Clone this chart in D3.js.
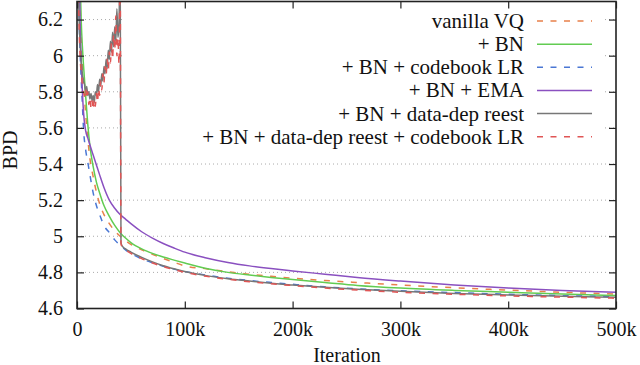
<!DOCTYPE html>
<html><head><meta charset="utf-8">
<script src="https://cdn.jsdelivr.net/npm/d3@7"></script>
<style>
body{margin:0;background:#fff}
svg{display:block}
svg text{font-family:"Liberation Serif","Times New Roman",Tinos,"DejaVu Serif","Noto Serif",serif;fill:#111}
</style>
</head><body>
<svg id="c" width="640" height="365"></svg>
<script>
// ---- data (iterations in thousands) ----
const xTicks = [0,100,200,300,400,500];
const xTickLabels = ["0","100k","200k","300k","400k","500k"];
const yTicks = [4.6,4.8,5.0,5.2,5.4,5.6,5.8,6.0,6.2];
const yTickLabels = ["4.6","4.8","5","5.2","5.4","5.6","5.8","6","6.2"];

const seriesLabels = ["vanilla VQ","+ BN","+ BN + codebook LR","+ BN + EMA","+ BN + data-dep reest","+ BN + data-dep reest + codebook LR"];

const itersSmooth = [1,2,3,4,5,6,8,10,12,15,18,21,25,30,35,40,45,50,60,70,80,90,100,120,140,160,180,200,230,260,300,350,400,450,500];
const vanillaVQ = [7.0,6.55,6.27,6.08,5.95,5.85,5.68,5.54,5.43,5.33,5.245,5.18,5.12,5.07,5.03,5.0,4.975,4.955,4.925,4.9,4.877,4.856,4.836,4.82,4.803,4.79,4.778,4.768,4.755,4.744,4.73,4.715,4.702,4.69,4.68];
const bn = [7.2,6.7,6.4,6.18,6.05,5.95,5.78,5.62,5.5,5.385,5.3,5.24,5.17,5.11,5.06,5.02,4.99,4.965,4.93,4.905,4.885,4.868,4.852,4.822,4.80,4.785,4.772,4.76,4.744,4.728,4.713,4.70,4.69,4.68,4.672];
const bnCodebookLR = [6.6,6.2,6.0,5.86,5.73,5.6,5.48,5.41,5.34,5.24,5.17,5.12,5.06,5.02,4.98,4.95,4.925,4.905,4.875,4.853,4.834,4.818,4.805,4.785,4.768,4.755,4.744,4.734,4.72,4.709,4.698,4.688,4.679,4.671,4.665];
const bnEMA = [7.1,6.5,6.15,5.95,5.8,5.69,5.585,5.545,5.505,5.45,5.395,5.34,5.27,5.20,5.155,5.12,5.095,5.07,5.025,4.99,4.96,4.935,4.912,4.88,4.855,4.836,4.821,4.808,4.79,4.772,4.752,4.73,4.713,4.70,4.69];

const itersReest = [0,1,2,3,4,5,6,7,8,9,10,11,12,13,14,15,16,17,18,19,20,21,22,23,24,25,26,27,28,29,30,31,32,33,34,35,36,37,38,39,40,40.8,42,45,50,60,70,80,90,100,120,140,160,180,200,230,260,300,350,400,450,500];
const bnReest = [6.9,6.45,6.2,6.05,5.96,5.9,5.86,5.84,5.8,5.83,5.78,5.8,5.76,5.79,5.75,5.78,5.74,5.8,5.78,5.84,5.8,5.87,5.83,5.9,5.86,5.94,5.9,5.98,5.93,6.03,5.98,6.08,6.02,6.13,6.05,6.16,6.08,6.26,6.1,6.18,6.6,4.965,4.945,4.93,4.912,4.883,4.858,4.837,4.82,4.805,4.782,4.765,4.752,4.74,4.73,4.717,4.706,4.695,4.683,4.675,4.668,4.662];
const bnReestCodebookLR = [7.0,6.5,6.15,5.98,5.9,5.84,5.8,5.78,5.82,5.76,5.8,5.73,5.77,5.71,5.75,5.7,5.76,5.72,5.79,5.74,5.82,5.78,5.86,5.81,5.9,5.85,5.94,5.89,5.98,5.92,6.02,5.96,6.07,5.98,6.12,6.03,6.22,6.0,6.1,5.95,6.6,4.96,4.94,4.925,4.905,4.876,4.852,4.832,4.815,4.80,4.778,4.762,4.748,4.737,4.727,4.713,4.702,4.69,4.679,4.67,4.663,4.657];

const colors = ["#e8804a","#62cc52","#4a77d4","#8a50c0","#777777","#e05555"];
const dashes = ["6,7.5",null,"6,7.5",null,null,"6,7.5"];

// ---- layout ----
const FONT = "'Liberation Serif','Times New Roman',Tinos,'DejaVu Serif','Noto Serif',serif";
const L=77, R=616, T=1.5, B=308.5;
const svg = d3.select("#c");
const x = d3.scaleLinear().domain([0,500]).range([L,R]);
const y = d3.scaleLinear().domain([4.6,6.3]).range([B,T]);

// grid
svg.append("g").selectAll("line").data(yTicks.filter(v=>v>4.61)).join("line")
  .attr("x1",L).attr("x2",R).attr("y1",d=>y(d)).attr("y2",d=>y(d))
  .attr("stroke","#aaa").attr("stroke-width",1).attr("stroke-dasharray","1,3");

svg.append("clipPath").attr("id","clip").append("rect")
  .attr("x",L).attr("y",T).attr("width",R-L).attr("height",B-T);

const series = [
  {xs:itersSmooth, ys:vanillaVQ},
  {xs:itersSmooth, ys:bn},
  {xs:itersSmooth, ys:bnCodebookLR},
  {xs:itersSmooth, ys:bnEMA},
  {xs:itersReest, ys:bnReest},
  {xs:itersReest, ys:bnReestCodebookLR}
];
const line = d3.line().x(d=>x(d[0])).y(d=>y(d[1])).curve(d3.curveMonotoneX);
const gLines = svg.append("g").attr("clip-path","url(#clip)");
series.forEach((s,i)=>{
  gLines.append("path").datum(s.xs.map((v,j)=>[v,s.ys[j]]))
    .attr("d",line).attr("fill","none").attr("stroke",colors[i])
    .attr("stroke-width",1.5).attr("stroke-dasharray",dashes[i]);
});

// legend (opaque)
svg.append("rect").attr("x",123).attr("y",3).attr("width",481).attr("height",145).attr("fill","#fff");
const lg = svg.append("g");
seriesLabels.forEach((t,i)=>{
  const yy = 21 + i*23.15;
  lg.append("text").attr("x",524).attr("y",yy).attr("dy","0.33em")
    .attr("text-anchor","end").attr("font-size",21).attr("font-family",FONT).text(t);
  lg.append("line").attr("x1",537).attr("x2",592).attr("y1",yy).attr("y2",yy)
    .attr("stroke",colors[i]).attr("stroke-width",1.5).attr("stroke-dasharray",dashes[i]);
});

// axes
const fmtX = d=>xTickLabels[xTicks.indexOf(d)];
const fmtY = d=>yTickLabels[yTicks.indexOf(d)];
const ax = svg.append("g").attr("transform",`translate(0,${B})`)
  .call(d3.axisBottom(x).tickValues(xTicks).tickFormat(fmtX).tickSizeInner(-7).tickSizeOuter(0).tickPadding(13.5));
const ay = svg.append("g").attr("transform",`translate(${L},0)`)
  .call(d3.axisLeft(y).tickValues(yTicks).tickFormat(fmtY).tickSizeInner(-7).tickSizeOuter(0).tickPadding(14));
const at = svg.append("g").attr("transform",`translate(0,${T})`)
  .call(d3.axisTop(x).tickValues(xTicks).tickFormat("").tickSizeInner(-7).tickSizeOuter(0));
const ar = svg.append("g").attr("transform",`translate(${R},0)`)
  .call(d3.axisRight(y).tickValues(yTicks).tickFormat("").tickSizeInner(-7).tickSizeOuter(0));
[ax,ay,at,ar].forEach(g=>{
  g.attr("font-family",FONT).attr("font-size",20);
  g.select(".domain").remove();
  g.selectAll(".tick line").attr("stroke","#222").attr("stroke-width",1.2);
  g.selectAll("text").attr("font-size",20).attr("font-family",FONT).attr("fill","#111");
});
svg.append("rect").attr("x",L).attr("y",T).attr("width",R-L).attr("height",B-T)
  .attr("fill","none").attr("stroke","#222").attr("stroke-width",1.6);

// axis titles
svg.append("text").attr("transform","translate(17,150) rotate(-90)")
  .attr("text-anchor","middle").attr("font-size",20).attr("font-family",FONT).text("BPD");
svg.append("text").attr("x",347).attr("y",362).attr("text-anchor","middle")
  .attr("font-size",20).attr("font-family",FONT).text("Iteration");
</script>
</body></html>
